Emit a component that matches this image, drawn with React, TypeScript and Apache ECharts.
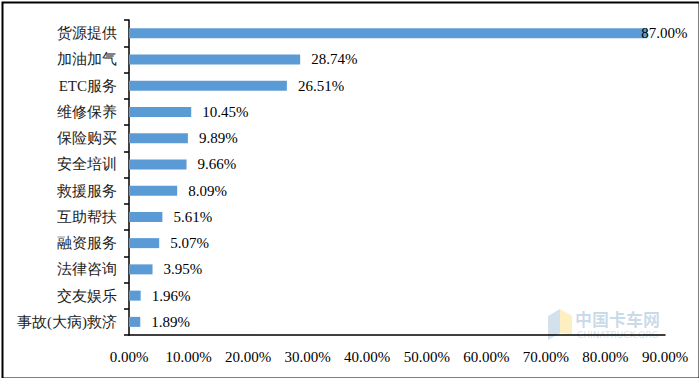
import React, { useEffect, useRef } from "react";
import * as echarts from "echarts";

const categories = ["货源提供", "加油加气", "ETC服务", "维修保养", "保险购买", "安全培训", "救援服务", "互助帮扶", "融资服务", "法律咨询", "交友娱乐", "事故(大病)救济"];
const values = [87.0, 28.74, 26.51, 10.45, 9.89, 9.66, 8.09, 5.61, 5.07, 3.95, 1.96, 1.89];

const FONT = "Liberation Serif";

export default function App() {
  const ref = useRef<HTMLDivElement>(null);
  useEffect(() => {
    document.body.style.margin = "0";
    const chart = echarts.init(ref.current!, null, { renderer: "svg" });
    const catRev = [...categories].reverse();
    const valRev = [...values].reverse();
    const data = valRev.map((v) =>
      v > 80 ? { value: v, label: { distance: -6 } } : { value: v }
    );
    chart.setOption({
      animation: false,
      backgroundColor: "#fff",
      grid: { left: 129, right: 34, top: 20, bottom: 43, containLabel: false },
      xAxis: {
        type: "value",
        min: 0,
        max: 90,
        interval: 10,
        axisLine: { show: true, lineStyle: { color: "#000", width: 1.5 } },
        axisTick: { show: false },
        splitLine: { show: false },
        axisLabel: {
          formatter: (v: number) => v.toFixed(2) + "%",
          color: "#000",
          fontFamily: FONT,
          fontSize: 15,
          margin: 14,
        },
      },
      yAxis: {
        type: "category",
        data: catRev,
        axisLine: { show: true, lineStyle: { color: "#000", width: 1.5 } },
        axisTick: { show: true, length: 5, lineStyle: { color: "#000", width: 1.5 } },
        axisLabel: { color: "#222", fontFamily: FONT, fontSize: 15, margin: 12 },
      },
      series: [
        {
          type: "bar",
          data,
          barWidth: 10,
          itemStyle: { color: "#5B9BD5" },
          label: {
            show: true,
            position: "right",
            distance: 11,
            color: "#000",
            fontFamily: FONT,
            fontSize: 15,
            formatter: (p: any) => Number(p.value).toFixed(2) + "%",
          },
        },
      ],
      graphic: [
        {
          type: "rect",
          left: 0,
          top: 0,
          shape: { x: 1, y: 1, width: 697, height: 376 },
          style: { fill: "none", stroke: "#000", lineWidth: 2 },
          silent: true,
        },
        {
          type: "polygon",
          shape: { points: [[548, 316], [560, 309], [560, 333], [548, 340]] },
          style: { fill: "rgba(130,170,200,0.35)" },
          silent: true,
        },
        {
          type: "polygon",
          shape: { points: [[560, 309], [572, 316], [572, 334], [560, 333]] },
          style: { fill: "rgba(250,220,120,0.45)" },
          silent: true,
        },
        {
          type: "text",
          left: 575,
          top: 310,
          style: { text: "中国卡车网", fill: "rgba(100,150,190,0.35)", font: "bold 17px Noto Sans CJK SC" },
          silent: true,
        },
        {
          type: "text",
          left: 577,
          top: 330,
          style: { text: "CHINATRUCK.ORG", fill: "rgba(100,150,190,0.3)", font: "9px DejaVu Sans" },
          silent: true,
        },
      ],
    });
    return () => chart.dispose();
  }, []);
  return <div ref={ref} style={{ width: 699, height: 378 }} />;
}
